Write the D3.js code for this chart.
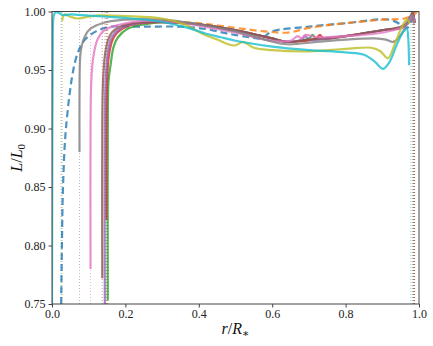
<!DOCTYPE html>
<html><head><meta charset="utf-8">
<script src="https://cdn.jsdelivr.net/npm/d3@7"></script>
<style>body{margin:0;background:#fff}svg{display:block}</style>
</head><body><div id="chart"></div>
<script>
const W = 433, H = 346;
const xTicks = [0, 0.2, 0.4, 0.6, 0.8, 1.0];
const yTicks = [0.75, 0.80, 0.85, 0.90, 0.95, 1.00];

// series: [r, L/L0]
const cyanData = [[0.000,0.75],[0.001,0.90],[0.002,0.97],[0.004,0.995],[0.008,0.999],[0.013,0.9995],[0.02,0.9985],[0.03,0.997],[0.05,0.9975],[0.1,0.9965],[0.15,0.9955],[0.2,0.9945],[0.3,0.991],[0.37,0.986],[0.42,0.981],[0.46,0.978],[0.5,0.975],[0.6,0.970],[0.7,0.967],[0.8,0.965],[0.85,0.963],[0.88,0.957],[0.902,0.951],[0.92,0.957],[0.94,0.972],[0.958,0.983],[0.967,0.985],[0.971,0.975],[0.973,0.954]];
const oliveData = [[0.028,0.992],[0.030,0.996],[0.035,0.9975],[0.05,0.9955],[0.07,0.994],[0.09,0.995],[0.12,0.9965],[0.2,0.996],[0.3,0.994],[0.36,0.989],[0.41,0.981],[0.45,0.976],[0.48,0.972],[0.5,0.971],[0.52,0.974],[0.55,0.969],[0.6,0.967],[0.7,0.966],[0.8,0.968],[0.87,0.969],[0.895,0.966],[0.915,0.960],[0.935,0.973],[0.955,0.988],[0.967,0.993],[0.975,0.99]];
const grayData = [[0.075,0.880],[0.075,0.93],[0.077,0.962],[0.082,0.972],[0.09,0.979],[0.1,0.984],[0.12,0.988],[0.15,0.991],[0.2,0.993],[0.3,0.993],[0.4,0.989],[0.5,0.983],[0.58,0.976],[0.64,0.972],[0.72,0.974],[0.8,0.976],[0.88,0.977],[0.91,0.976],[0.93,0.974],[0.955,0.982],[0.972,0.994],[0.98,0.997],[0.985,0.99]];
const blueData = [[0.025,0.75],[0.027,0.80],[0.030,0.85],[0.038,0.90],[0.058,0.95],[0.072,0.966],[0.09,0.976],[0.12,0.983],[0.16,0.987],[0.25,0.987],[0.35,0.987],[0.42,0.985],[0.48,0.981],[0.54,0.978],[0.57,0.977],[0.6,0.983],[0.7,0.987],[0.8,0.990],[0.92,0.993],[0.955,0.988],[0.968,0.986],[0.98,0.993],[0.99,0.999]];
const orangeData = [[0.3,0.992],[0.4,0.990],[0.5,0.986],[0.58,0.983],[0.643,0.982],[0.7,0.986],[0.8,0.990],[0.9,0.993],[0.96,0.994],[0.985,0.997],[0.995,1.0]];
const pinkData = [[0.105,0.780],[0.105,0.90],[0.107,0.94],[0.112,0.960],[0.124,0.976],[0.143,0.984],[0.175,0.988],[0.22,0.991],[0.3,0.992],[0.4,0.988],[0.5,0.982],[0.6,0.975],[0.65,0.975],[0.67,0.979],[0.68,0.977],[0.69,0.980],[0.72,0.978],[0.8,0.979],[0.88,0.981],[0.93,0.984],[0.96,0.987],[0.975,0.993],[0.982,0.997],[0.988,0.99]];
const brownData = [[0.137,0.772],[0.137,0.90],[0.139,0.94],[0.144,0.962],[0.152,0.975],[0.163,0.982],[0.185,0.987],[0.22,0.990],[0.3,0.991],[0.4,0.989],[0.5,0.984],[0.6,0.977],[0.64,0.974],[0.7,0.976],[0.8,0.979],[0.9,0.984],[0.95,0.987],[0.97,0.991],[0.982,0.999],[0.988,0.99]];
const purpleData = [[0.144,0.750],[0.144,0.90],[0.146,0.94],[0.151,0.962],[0.159,0.975],[0.172,0.982],[0.195,0.987],[0.235,0.990],[0.3,0.991],[0.4,0.989],[0.5,0.984],[0.6,0.977],[0.64,0.974],[0.68,0.976],[0.69,0.979],[0.70,0.976],[0.8,0.979],[0.9,0.984],[0.95,0.986],[0.97,0.990],[0.983,0.998],[0.988,0.99]];
const redData = [[0.148,0.822],[0.148,0.90],[0.150,0.94],[0.155,0.962],[0.164,0.975],[0.178,0.982],[0.202,0.987],[0.24,0.990],[0.3,0.991],[0.4,0.989],[0.5,0.984],[0.6,0.977],[0.64,0.974],[0.72,0.977],[0.73,0.980],[0.74,0.977],[0.8,0.979],[0.9,0.984],[0.95,0.986],[0.97,0.990],[0.983,0.998],[0.988,0.99]];
const greenData = [[0.152,0.753],[0.152,0.90],[0.154,0.94],[0.160,0.955],[0.168,0.970],[0.18,0.978],[0.205,0.985],[0.25,0.989],[0.3,0.991],[0.4,0.989],[0.5,0.984],[0.6,0.977],[0.64,0.974],[0.7,0.977],[0.71,0.980],[0.72,0.977],[0.8,0.979],[0.9,0.984],[0.95,0.986],[0.97,0.990],[0.983,0.998],[0.988,0.99]];

const series = [
  {name:"blue", color:"#1f77b4", data:blueData, dash:"7,4", r0:0.025, r1:0.985},
  {name:"orange", color:"#ff7f0e", data:orangeData, dash:"7,4", r0:0.150, r1:0.986},
  {name:"green", color:"#2ca02c", data:greenData, dash:null, r0:0.152, r1:0.987},
  {name:"red", color:"#d62728", data:redData, dash:null, r0:0.148, r1:0.987},
  {name:"purple", color:"#9467bd", data:purpleData, dash:null, r0:0.144, r1:0.986},
  {name:"brown", color:"#8c564b", data:brownData, dash:null, r0:0.137, r1:0.988},
  {name:"pink", color:"#e377c2", data:pinkData, dash:null, r0:0.105, r1:0.984},
  {name:"gray", color:"#7f7f7f", data:grayData, dash:null, r0:0.075, r1:0.983},
  {name:"olive", color:"#bcbd22", data:oliveData, dash:null, r0:0.028, r1:0.982},
  {name:"cyan", color:"#17becf", data:cyanData, dash:null, r0:0.000, r1:0.978}
];

const m = {l:52, t:11.5, r:W-419, b:H-304};
const svg = d3.select("#chart").append("svg").attr("width", W).attr("height", H);
const x = d3.scaleLinear().domain([0, 1.0]).range([m.l, W - m.r]);
const y = d3.scaleLinear().domain([0.75, 1.0]).range([H - m.b, m.t]);

svg.append("defs").append("clipPath").attr("id","clip").append("rect")
  .attr("x", m.l).attr("y", m.t).attr("width", x(1)-m.l).attr("height", y(0.75)-m.t);

const g = svg.append("g").attr("clip-path","url(#clip)");

// dotted verticals
series.forEach(s => {
  [s.r0, s.r1].forEach(r => {
    g.append("line").attr("x1", x(r)).attr("x2", x(r)).attr("y1", y(0.75)).attr("y2", y(1.0))
      .attr("stroke", s.color).attr("stroke-width", 1).attr("stroke-dasharray","1,2")
      .attr("opacity", 0.55);
  });
});

const line = d3.line().x(d => x(d[0])).y(d => y(d[1])).curve(d3.curveCatmullRom.alpha(0.5));
series.forEach(s => {
  g.append("path").datum(s.data).attr("d", line).attr("fill","none")
    .attr("stroke", s.color).attr("stroke-width", 2.2).attr("opacity", 0.8)
    .attr("stroke-dasharray", s.dash).attr("stroke-linejoin","round");
});

// frame
svg.append("rect").attr("x", m.l).attr("y", m.t).attr("width", x(1)-m.l).attr("height", y(0.75)-m.t)
  .attr("fill","none").attr("stroke","#444").attr("stroke-width",1);

const font = "'Liberation Serif', 'DejaVu Serif', serif";
const xa = svg.append("g").attr("transform", `translate(0,${H-m.b})`)
  .call(d3.axisBottom(x).tickValues(xTicks).tickFormat(d3.format(".1f")).tickSize(3.5).tickPadding(2));
const ya = svg.append("g").attr("transform", `translate(${m.l},0)`)
  .call(d3.axisLeft(y).tickValues(yTicks).tickFormat(d3.format(".2f")).tickSize(3.5).tickPadding(3));
[xa, ya].forEach(a => {
  a.select(".domain").remove();
  a.selectAll("line").attr("stroke","#444");
  a.selectAll("text").attr("font-family", font).attr("font-size", 12).attr("fill","#222");
});

// axis labels
const xl = svg.append("text").attr("x", (m.l + x(1))/2).attr("y", 334).attr("text-anchor","middle")
  .attr("font-family", font).attr("font-size", 16).attr("fill","#111");
xl.append("tspan").attr("font-style","italic").text("r");
xl.append("tspan").text("/");
xl.append("tspan").attr("font-style","italic").text("R");
xl.append("tspan").attr("font-size", 11).attr("dy", 3).text("∗");

const yl = svg.append("text").attr("transform", `translate(22,${(m.t + y(0.75))/2}) rotate(-90)`)
  .attr("text-anchor","middle").attr("font-family", font).attr("font-size", 16).attr("fill","#111");
yl.append("tspan").attr("font-style","italic").text("L");
yl.append("tspan").text("/");
yl.append("tspan").attr("font-style","italic").text("L");
yl.append("tspan").attr("font-size", 11).attr("dy", 3).text("0");
</script></body></html>
